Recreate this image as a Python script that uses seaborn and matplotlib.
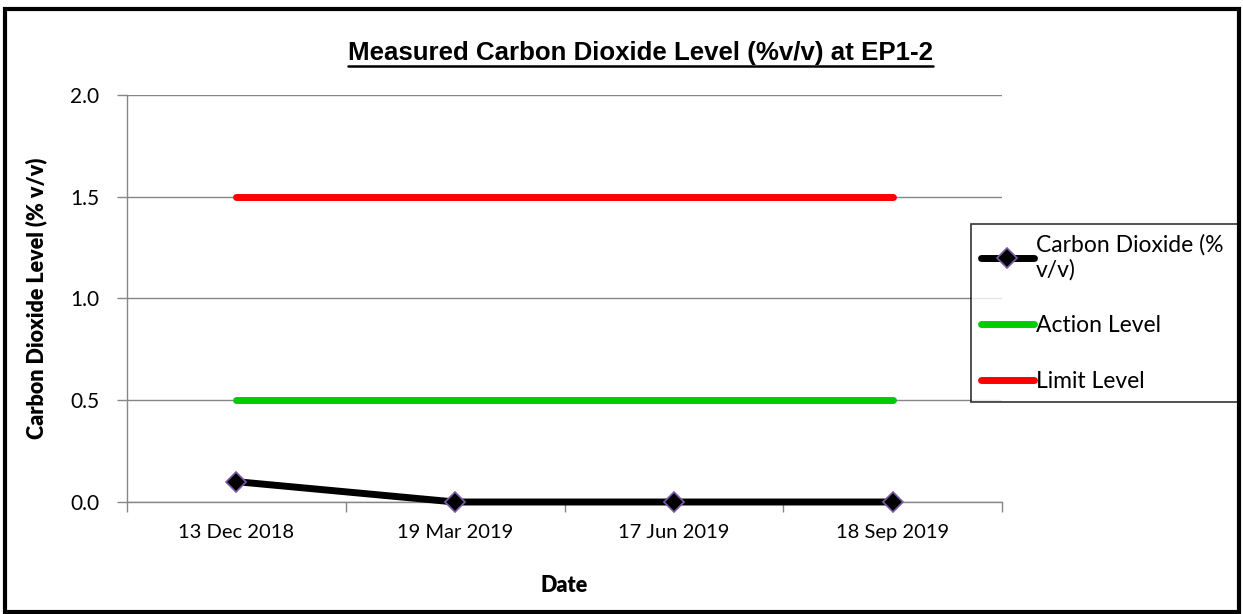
import matplotlib
matplotlib.use("Agg")
import matplotlib.pyplot as plt
import seaborn as sns
import pandas as pd
from matplotlib.patches import Rectangle
from matplotlib.lines import Line2D

dates = ["13 Dec 2018", "19 Mar 2019", "17 Jun 2019", "18 Sep 2019"]
co2 = [0.1, 0.0, 0.0, 0.0]
action = [0.5, 0.5, 0.5, 0.5]
limit = [1.5, 1.5, 1.5, 1.5]
yticks = [0.0, 0.5, 1.0, 1.5, 2.0]

sns.set_theme(style="white")
plt.rcParams['font.family'] = ['Lato', 'DejaVu Sans']
plt.rcParams['text.color'] = 'black'
plt.rcParams['axes.labelcolor'] = 'black'

fig = plt.figure(figsize=(12.43, 6.14), dpi=100)
ax = fig.add_axes([0.1022, 0.1824, 0.7039, 0.6629])

df_co2 = pd.DataFrame({"Date": dates, "Value": co2})
df_act = pd.DataFrame({"Date": dates, "Value": action})
df_lim = pd.DataFrame({"Date": dates, "Value": limit})

sns.lineplot(data=df_co2, x="Date", y="Value", ax=ax, color="black", linewidth=5,
             marker="D", markersize=10, markerfacecolor="black",
             markeredgecolor="#7a5ca8", markeredgewidth=1.2,
             label="Carbon Dioxide (%\nv/v)", zorder=5, clip_on=False)
sns.lineplot(data=df_act, x="Date", y="Value", ax=ax, color="#00cc00", linewidth=5,
             label="Action Level", zorder=4)
sns.lineplot(data=df_lim, x="Date", y="Value", ax=ax, color="#ff0000", linewidth=5,
             label="Limit Level", zorder=4)

TFS = 14.5
ax.set_xlim(-0.5, 3.5)
ax.set_ylim(0, 2.0)
ax.set_yticks(yticks)
ax.set_yticklabels([f"{v:.1f}" for v in yticks], fontsize=15)
ax.set_xticks(range(len(dates)))
ax.set_xticklabels(dates, fontsize=TFS)
ax.tick_params(axis="x", length=0, pad=16, labelcolor="black")
ax.tick_params(axis="y", length=7, color="#868686", width=1, left=True, pad=13,
               labelcolor="black")
ax.set_xticks([-0.5, 0.5, 1.5, 2.5, 3.5], minor=True)
ax.tick_params(axis="x", which="minor", length=7, color="#868686", width=1, bottom=True)

ax.yaxis.grid(True, color="#868686", linewidth=1)
ax.xaxis.grid(False)
for side in ["top", "right"]:
    ax.spines[side].set_visible(False)
for side in ["left", "bottom"]:
    ax.spines[side].set_color("#868686")
    ax.spines[side].set_linewidth(1)

ax.set_xlabel("Date", fontsize=15.5, fontweight="heavy", color="black")
ax.set_ylabel("Carbon Dioxide Level (% v/v)", fontsize=15.5, fontweight="heavy",
              color="black")
ax.xaxis.set_label_coords(0.5, -0.180)
ax.yaxis.set_label_coords(-0.091, 0.5)

leg = ax.legend(loc="upper left", bbox_to_anchor=(0.781, 0.311, 0.216, 0.324),
                bbox_transform=fig.transFigure, mode="expand", frameon=True,
                fancybox=False, edgecolor="black", fontsize=16.5, handlelength=2.3,
                handletextpad=0.1, labelspacing=1.5, borderpad=0.45, borderaxespad=0)
leg.get_frame().set_linewidth(1.2)
for t in leg.get_texts():
    t.set_color("black")

title = fig.text(0.515, 0.9137, "Measured Carbon Dioxide Level (%v/v) at EP1-2",
                 ha="center", va="center", fontsize=18.6, fontweight="bold",
                 color="black", family=["Liberation Sans", "DejaVu Sans"])

fig.canvas.draw()
bb = title.get_window_extent().transformed(fig.transFigure.inverted())
fig.add_artist(Line2D([bb.x0, bb.x1], [bb.y0 - 0.002, bb.y0 - 0.002],
                      transform=fig.transFigure, color="black", linewidth=1.8))

fig.add_artist(Rectangle((0.004, 0.003), 0.993, 0.982, transform=fig.transFigure,
                         fill=False, edgecolor="black", linewidth=3))

fig.savefig("out.png", dpi=100, facecolor="white")
